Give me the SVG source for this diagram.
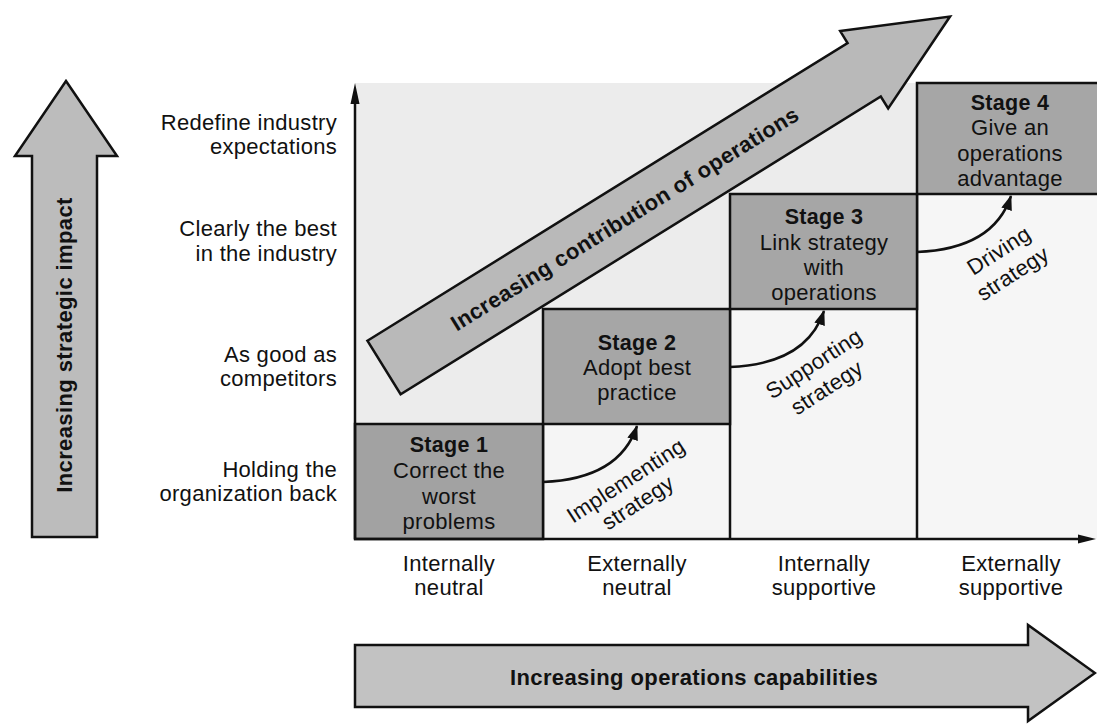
<svg xmlns="http://www.w3.org/2000/svg" width="1097" height="724" viewBox="0 0 1097 724">
<defs>
<style>
text { font-family: "Liberation Sans", Arial, sans-serif; fill:#111; letter-spacing:0.3px; }
.lbl { font-size:22px; }
.mid { text-anchor:middle; }
.end { text-anchor:end; }
.ttl { font-size:21.5px; font-weight:bold; }
.big { font-size:22px; font-weight:bold; text-anchor:middle; letter-spacing:0.4px; }
.box { fill:#a6a6a6; stroke:#111; stroke-width:2.5; }
.ln { stroke:#111; stroke-width:2.5; fill:none; }
.shape { stroke:#111; stroke-width:2.5; stroke-linejoin:miter; }
.conn { fill:none; stroke:#111; stroke-width:2.5; marker-end:url(#ah); }
</style>
<marker id="ah" viewBox="0 0 15 11" refX="14" refY="5.5" markerWidth="15" markerHeight="11" markerUnits="userSpaceOnUse" orient="auto"><path d="M0,0 L15,5.5 L0,11 z" fill="#111"/></marker>
</defs>
<rect width="1097" height="724" fill="#ffffff"/>

<g id="plot-background">
<path d="M355,83 H917 V194 H730 V309 H543 V424 H355 Z" fill="#ececec"/>
<rect x="543" y="424" width="187" height="115" fill="#f5f5f5"/>
<rect x="730" y="309" width="187" height="230" fill="#f5f5f5"/>
<rect x="917" y="194" width="180" height="345" fill="#f6f6f6"/>
</g>

<g id="left-arrow">
<polygon class="shape" points="66,81 117,156 97,156 97,537 32,537 32,156 15,156" fill="#bcbcbc"/>
<text class="big" transform="translate(64,345) rotate(-90)" x="0" y="8">Increasing strategic impact</text>
</g>

<g id="y-labels">
<text class="lbl end" x="337" y="130">Redefine industry</text>
<text class="lbl end" x="337" y="154">expectations</text>
<text class="lbl end" x="337" y="236">Clearly the best</text>
<text class="lbl end" x="337" y="261">in the industry</text>
<text class="lbl end" x="337" y="362">As good as</text>
<text class="lbl end" x="337" y="386">competitors</text>
<text class="lbl end" x="337" y="477">Holding the</text>
<text class="lbl end" x="337" y="501">organization back</text>
</g>

<g id="grid">
<line class="ln" x1="543" y1="424" x2="543" y2="539"/>
<line class="ln" x1="730" y1="309" x2="730" y2="539"/>
<line class="ln" x1="917" y1="194" x2="917" y2="539"/>
</g>

<g id="stage1">
<rect class="box" x="355" y="424" width="188" height="115" style="fill:#a2a2a2"/>
<text class="ttl mid" x="449" y="452">Stage 1</text>
<text class="lbl mid" x="449" y="478">Correct the</text>
<text class="lbl mid" x="449" y="504">worst</text>
<text class="lbl mid" x="449" y="529">problems</text>
</g>

<g id="stage2">
<rect class="box" x="543" y="309" width="187" height="115"/>
<text class="ttl mid" x="637" y="350">Stage 2</text>
<text class="lbl mid" x="637" y="375">Adopt best</text>
<text class="lbl mid" x="637" y="400">practice</text>
</g>

<g id="stage3">
<rect class="box" x="730" y="194" width="187" height="115"/>
<text class="ttl mid" x="824" y="224">Stage 3</text>
<text class="lbl mid" x="824" y="250">Link strategy</text>
<text class="lbl mid" x="824" y="275">with</text>
<text class="lbl mid" x="824" y="300">operations</text>
</g>

<g id="stage4">
<rect class="box" x="917" y="83" width="190" height="111"/>
<text class="ttl mid" x="1010" y="110">Stage 4</text>
<text class="lbl mid" x="1010" y="135">Give an</text>
<text class="lbl mid" x="1010" y="161">operations</text>
<text class="lbl mid" x="1010" y="186">advantage</text>
</g>

<g id="diagonal-arrow" transform="translate(384,367.5) rotate(-31.8)">
<polygon class="shape" points="0,-31.5 565,-31.5 565,-45.5 666,0 565,45.5 565,31.5 0,31.5" fill="#b9b9b9"/>
<text class="big" x="283" y="8">Increasing contribution of operations</text>
</g>

<g id="axes">
<line class="ln" x1="355" y1="539" x2="355" y2="100"/>
<polygon points="350.5,104 355,83 359.5,104" fill="#111"/>
<line class="ln" x1="354" y1="539" x2="1082" y2="539"/>
<polygon points="1078,534.5 1096,539 1078,543.5" fill="#111"/>
</g>

<g id="x-labels">
<text class="lbl mid" x="449" y="571">Internally</text>
<text class="lbl mid" x="449" y="595">neutral</text>
<text class="lbl mid" x="637" y="571">Externally</text>
<text class="lbl mid" x="637" y="595">neutral</text>
<text class="lbl mid" x="824" y="571">Internally</text>
<text class="lbl mid" x="824" y="595">supportive</text>
<text class="lbl mid" x="1011" y="571">Externally</text>
<text class="lbl mid" x="1011" y="595">supportive</text>
</g>

<g id="bottom-arrow">
<polygon class="shape" points="355,645 1028,645 1028,625 1095,673 1028,721 1028,707 355,707" fill="#c2c2c2"/>
<text class="big" x="694" y="685">Increasing operations capabilities</text>
</g>

<g id="connectors">
<path class="conn" d="M543,482 C593,480 625,462 637,426"/>
<path class="conn" d="M730,367 C780,365 812,347 824,311"/>
<path class="conn" d="M917,252 C967,250 999,232 1011,196"/>
</g>

<g id="connector-labels">
<text class="lbl mid" transform="translate(626,481) rotate(-33)" y="7">Implementing</text>
<text class="lbl mid" transform="translate(638,503) rotate(-33)" y="7">strategy</text>
<text class="lbl mid" transform="translate(814,364) rotate(-33)" y="7">Supporting</text>
<text class="lbl mid" transform="translate(827,388) rotate(-33)" y="7">strategy</text>
<text class="lbl mid" transform="translate(999,251) rotate(-33)" y="7">Driving</text>
<text class="lbl mid" transform="translate(1013,274) rotate(-33)" y="7">strategy</text>
</g>
</svg>
